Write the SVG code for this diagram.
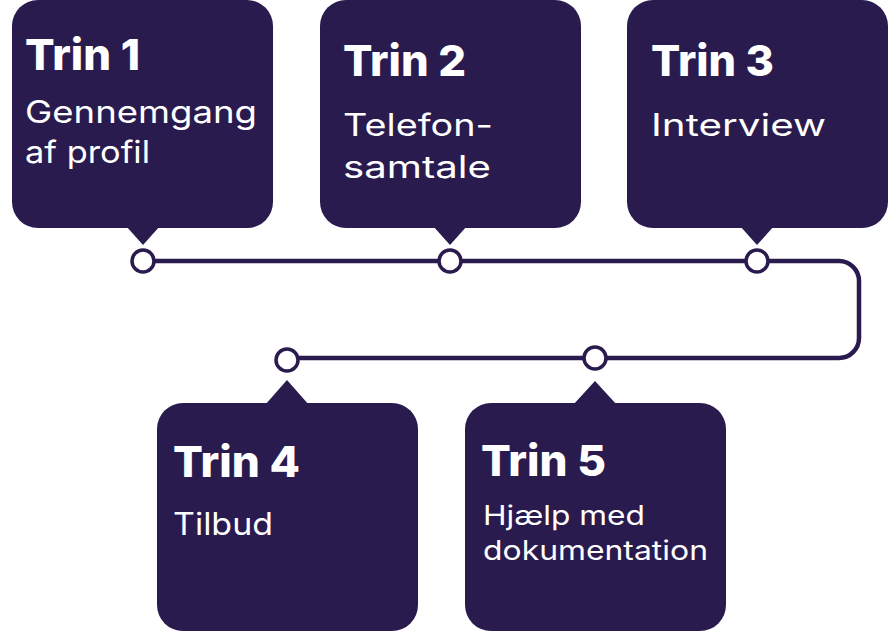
<svg xmlns="http://www.w3.org/2000/svg" width="889" height="632" viewBox="0 0 889 632">
<style>
.box{fill:#2a1b4e}
.t{font-family:Inter,"Noto Sans",sans-serif;font-weight:800;font-size:43px;fill:#fff}
.s{font-family:Inter,"Noto Sans",sans-serif;font-weight:400;font-size:31px;fill:#fff}
.s2{font-family:Inter,"Noto Sans",sans-serif;font-weight:400;font-size:27px;fill:#fff}
.line{fill:none;stroke:#2a1b4e;stroke-width:4.5}
.dot{fill:#fff;stroke:#2a1b4e;stroke-width:3.5}
</style>
<rect width="889" height="632" fill="#fff"/>
<g id="connectors">
<path class="line" d="M143,261 H839 A20,20 0 0 1 859,281 V338 A20,20 0 0 1 839,358 H287"/>
</g>
<g id="trin1">
<rect class="box" x="12" y="0" width="261" height="228" rx="26"/>
<polygon class="box" points="126,226 160,226 143,245"/>
<circle class="dot" cx="143" cy="261" r="11"/>
<text class="t" x="25" y="70" textLength="115" lengthAdjust="spacingAndGlyphs">Trin 1</text>
<text class="s" x="25" y="123" textLength="232" lengthAdjust="spacingAndGlyphs">Gennemgang</text>
<text class="s" x="25" y="163" textLength="125" lengthAdjust="spacingAndGlyphs">af profil</text>
</g>
<g id="trin2">
<rect class="box" x="320" y="0" width="261" height="228" rx="26"/>
<polygon class="box" points="433,226 467,226 450,245"/>
<circle class="dot" cx="450" cy="261" r="11"/>
<text class="t" x="343" y="76" textLength="123" lengthAdjust="spacingAndGlyphs">Trin 2</text>
<text class="s" x="343" y="136" textLength="150" lengthAdjust="spacingAndGlyphs">Telefon-</text>
<text class="s" x="343" y="178" textLength="148" lengthAdjust="spacingAndGlyphs">samtale</text>
</g>
<g id="trin3">
<rect class="box" x="627" y="0" width="261" height="228" rx="26"/>
<polygon class="box" points="740,226 774,226 757,245"/>
<circle class="dot" cx="757" cy="261" r="11"/>
<text class="t" x="651" y="76" textLength="123" lengthAdjust="spacingAndGlyphs">Trin 3</text>
<text class="s" x="651" y="136" textLength="175" lengthAdjust="spacingAndGlyphs">Interview</text>
</g>
<g id="trin4">
<rect class="box" x="157" y="403" width="261" height="228" rx="26"/>
<polygon class="box" points="265,405 309,405 287,380"/>
<circle class="dot" cx="287" cy="360" r="11"/>
<text class="t" x="173" y="477" textLength="127" lengthAdjust="spacingAndGlyphs">Trin 4</text>
<text class="s" x="173" y="535" textLength="100" lengthAdjust="spacingAndGlyphs">Tilbud</text>
</g>
<g id="trin5">
<rect class="box" x="465" y="403" width="261" height="228" rx="26"/>
<polygon class="box" points="573,405 617,405 595,381"/>
<circle class="dot" cx="595" cy="358" r="11"/>
<text class="t" x="481" y="476" textLength="125" lengthAdjust="spacingAndGlyphs">Trin 5</text>
<text class="s2" x="483" y="525" textLength="162" lengthAdjust="spacingAndGlyphs">Hjælp med</text>
<text class="s2" x="483" y="560" textLength="225" lengthAdjust="spacingAndGlyphs">dokumentation</text>
</g>
</svg>
